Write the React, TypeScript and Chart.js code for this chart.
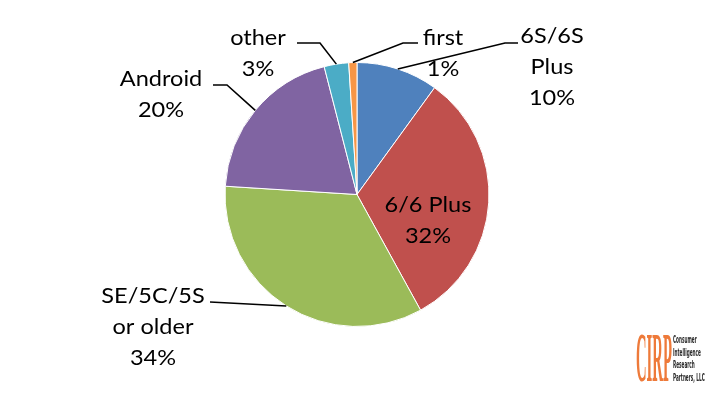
import React, { useEffect, useRef } from "react";
import { Chart, registerables } from "chart.js";

Chart.register(...registerables);

// Share of devices by model group (percent)
const categories = ["6S/6S\nPlus", "6/6 Plus", "SE/5C/5S\nor older", "Android", "other", "first"];
const shares = [10, 32, 34, 20, 3, 1];
const sliceColors = ["#4F81BD", "#C0504D", "#9BBB59", "#8064A2", "#4BACC6", "#F79646"];

// Label placement per slice: text centre x, first baseline, optional elbow and end of the leader line
type LabelSpot = { cx: number; by: number; elbow?: [number, number]; end?: [number, number] };
const labelSpots: LabelSpot[] = [
  { cx: 552, by: 43, elbow: [505, 43], end: [518, 43] },
  { cx: 428, by: 212 },
  { cx: 153, by: 303, end: [210, 302] },
  { cx: 161, by: 86, elbow: [227, 85], end: [213, 85] },
  { cx: 258, by: 45, elbow: [320, 43], end: [297, 43] },
  { cx: 443, by: 45, elbow: [403, 43], end: [418, 43] },
];

const FONT = '21px Lato, "Noto Sans", sans-serif';
const TEXT_SCALE_X = 1.12;
const LINE_GAP = 31;

function drawText(ctx: CanvasRenderingContext2D, text: string, cx: number, by: number) {
  ctx.save();
  ctx.translate(cx, by);
  ctx.scale(TEXT_SCALE_X, 1);
  ctx.fillText(text, 0, 0);
  ctx.restore();
}

const labelPlugin = {
  id: "pieLabels",
  afterDraw(chart: any) {
    const ctx: CanvasRenderingContext2D = chart.ctx;
    const meta = chart.getDatasetMeta(0);
    ctx.save();
    ctx.font = FONT;
    ctx.fillStyle = "#000";
    ctx.textAlign = "center";
    ctx.textBaseline = "alphabetic";
    ctx.strokeStyle = "#000";
    ctx.lineWidth = 1.6;
    meta.data.forEach((arc: any, i: number) => {
      const { x, y, startAngle, endAngle, outerRadius } = arc.getProps(
        ["x", "y", "startAngle", "endAngle", "outerRadius"],
        true
      );
      const mid = (startAngle + endAngle) / 2;
      const px = x + Math.cos(mid) * outerRadius;
      const py = y + Math.sin(mid) * outerRadius;
      const spot = labelSpots[i];
      if (spot.end) {
        ctx.beginPath();
        ctx.moveTo(px, py);
        if (spot.elbow) ctx.lineTo(spot.elbow[0], spot.elbow[1]);
        ctx.lineTo(spot.end[0], spot.end[1]);
        ctx.stroke();
      }
      const lines = [...categories[i].split("\n"), `${shares[i]}%`];
      lines.forEach((t, k) => drawText(ctx, t, spot.cx, spot.by + k * LINE_GAP));
    });
    ctx.restore();

    // CIRP mark in the lower right corner
    ctx.save();
    ctx.fillStyle = "#EE7A3A";
    ctx.textAlign = "left";
    ctx.textBaseline = "alphabetic";
    ctx.font = 'bold 70px "Liberation Serif", serif';
    ctx.translate(636, 381);
    ctx.scale(0.21, 1);
    ctx.fillText("CIRP", 0, 0);
    ctx.restore();

    ctx.save();
    ctx.fillStyle = "#2a2a2a";
    ctx.textAlign = "left";
    ctx.font = 'bold 10px "DejaVu Sans", sans-serif';
    ["Consumer", "Intelligence", "Research", "Partners, LLC"].forEach((t, k) => {
      ctx.save();
      ctx.translate(673, 343 + k * 12.5);
      ctx.scale(0.42, 1);
      ctx.fillText(t, 0, 0);
      ctx.restore();
    });
    ctx.restore();
  },
};

export default function App() {
  const canvasRef = useRef<HTMLCanvasElement | null>(null);

  useEffect(() => {
    if (!canvasRef.current) return;
    const chart = new Chart(canvasRef.current, {
      type: "pie",
      data: {
        labels: categories.map((c) => c.replace("\n", " ")),
        datasets: [
          {
            data: shares,
            backgroundColor: sliceColors,
            borderColor: "#ffffff",
            borderWidth: 1,
          },
        ],
      },
      options: {
        responsive: false,
        animation: false,
        radius: 132,
        layout: { padding: { left: 225, right: 231, top: 62.5, bottom: 72.5 } },
        plugins: {
          legend: { display: false },
          tooltip: { enabled: false },
        },
      } as any,
      plugins: [labelPlugin],
    });
    return () => chart.destroy();
  }, []);

  return (
    <div style={{ position: "fixed", left: 0, top: 0, width: 720, height: 399, background: "#fff" }}>
      <canvas ref={canvasRef} width={720} height={399} style={{ display: "block" }} />
    </div>
  );
}
